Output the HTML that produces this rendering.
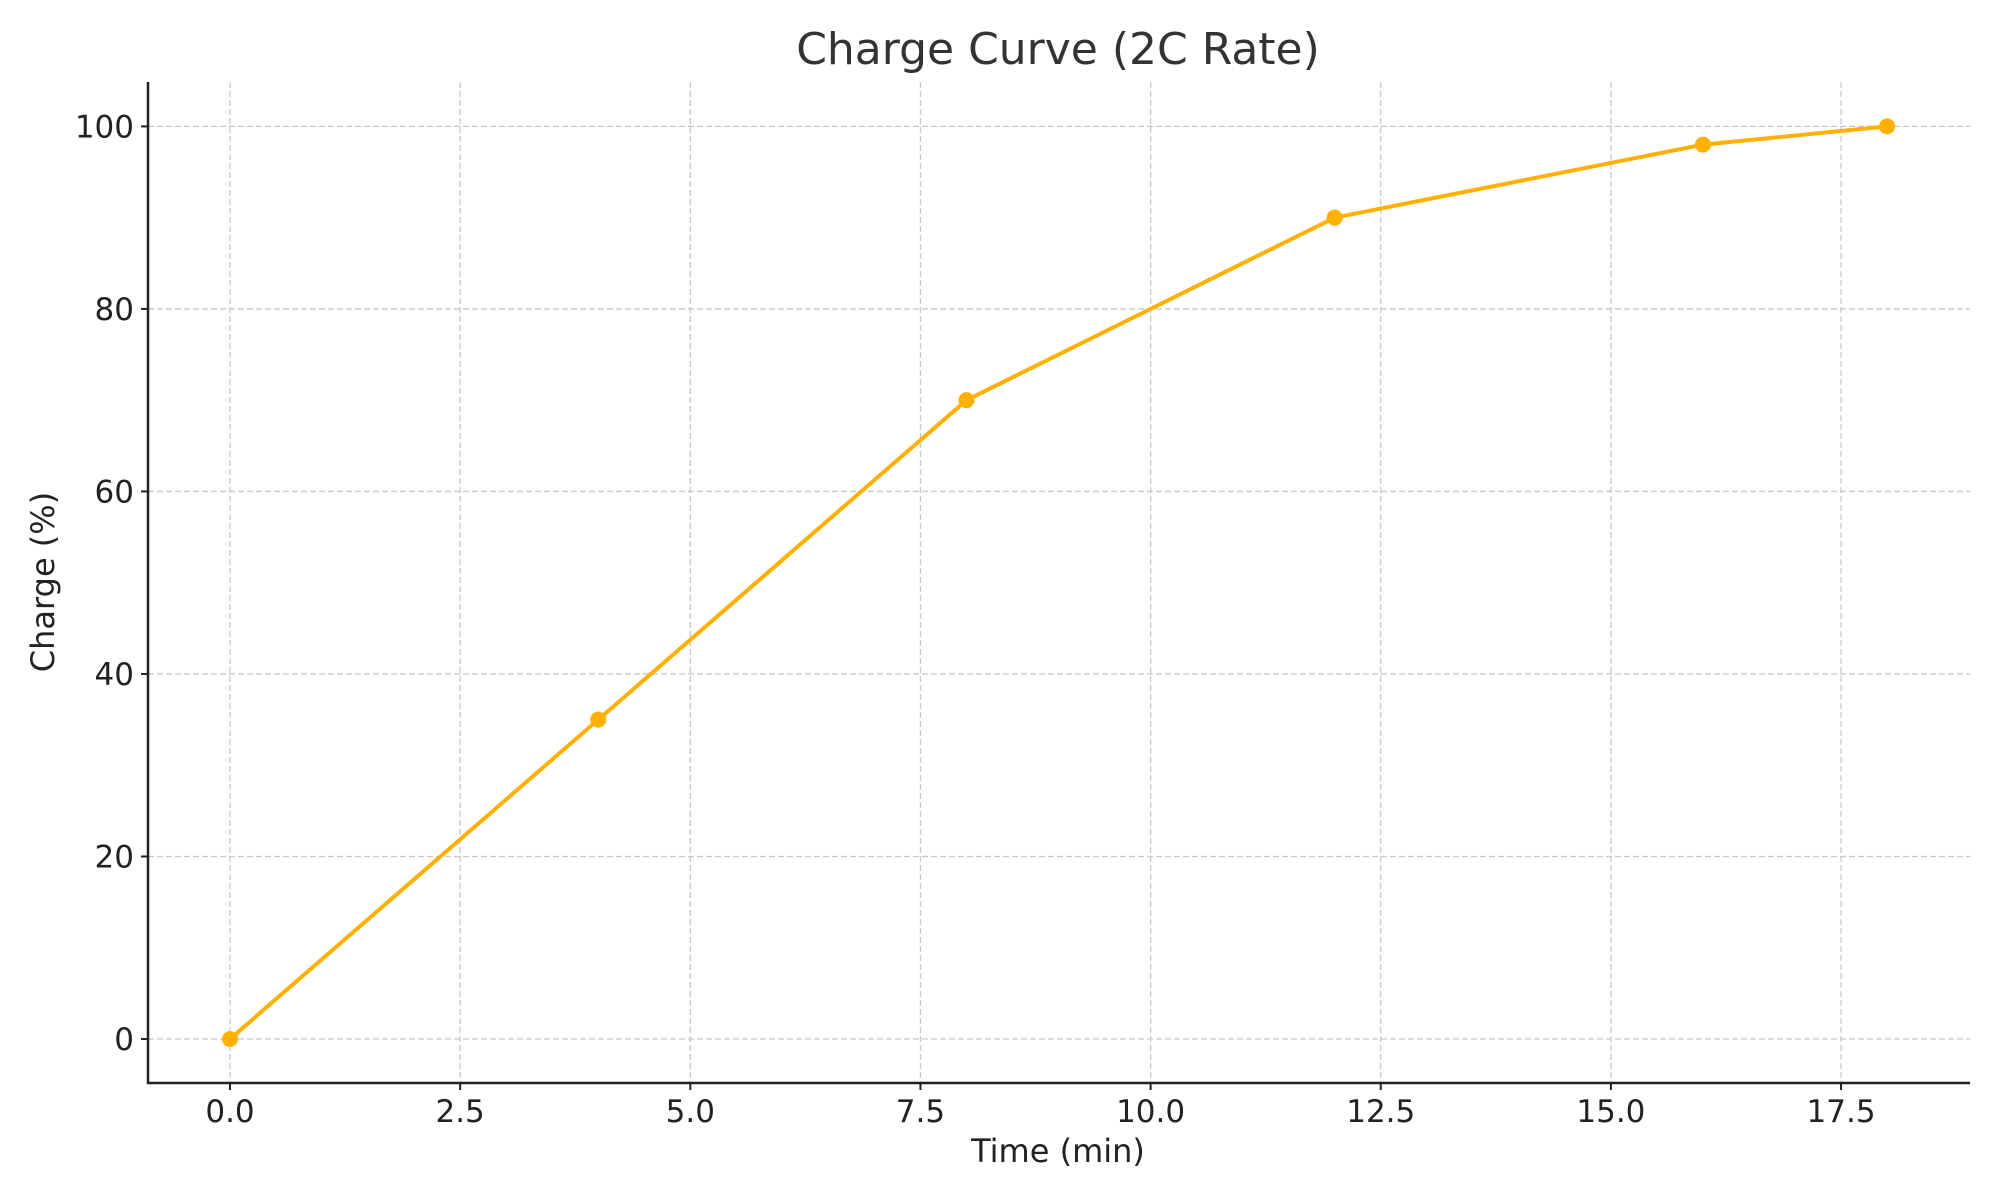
<!DOCTYPE html>
<html><head><meta charset="utf-8"><style>
html,body{margin:0;padding:0;background:#fff;}
svg{display:block;font-family:"DejaVu Sans","Liberation Sans",sans-serif;}
</style></head><body>
<svg id="chart" width="2000" height="1200" viewBox="0 0 2000 1200">
<rect width="2000" height="1200" fill="#fff"/>
<text x="1058" y="64" text-anchor="middle" font-size="44" fill="#333">Charge Curve (2C Rate)</text>
<g id="grid"></g>
<g id="axes"></g>
<g id="series"></g>
<text x="1058" y="1162" text-anchor="middle" font-size="32" fill="#222">Time (min)</text>
<text transform="translate(54,582) rotate(-90)" text-anchor="middle" font-size="32" fill="#222">Charge (%)</text>
</svg>
<script>
const times = [0, 4, 8, 12, 16, 18];
const charges = [0, 35, 70, 90, 98, 100];
const xTicks = [0, 2.5, 5, 7.5, 10, 12.5, 15, 17.5];
const xTickLabels = ["0.0","2.5","5.0","7.5","10.0","12.5","15.0","17.5"];
const yTicks = [0, 20, 40, 60, 80, 100];
const yTickLabels = ["0","20","40","60","80","100"];

const L=148,R=1970,T=82,B=1083;
function xs(v){return 230+v*92.06;}
function ys(v){return 1039-v*9.126;}
const NS="http://www.w3.org/2000/svg";
function mk(tag,attrs,parent){const e=document.createElementNS(NS,tag);for(const k in attrs)e.setAttribute(k,attrs[k]);parent.appendChild(e);return e;}
const grid=document.getElementById('grid'),axes=document.getElementById('axes'),series=document.getElementById('series');

xTicks.forEach((t,i)=>{
  const x=xs(t);
  const g=mk('line',{x1:x,x2:x,y1:T,y2:B,stroke:'#c8c8c8','stroke-width':1.3,'stroke-dasharray':'6,3'},grid);
  
  
  const tk=mk('line',{x1:x,x2:x,y1:B,y2:B+7,stroke:'#222','stroke-width':2},axes);
  
  
  const lb=mk('text',{x:x,y:B+39,'text-anchor':'middle','font-size':31,fill:'#222'},axes);
  lb.textContent=xTickLabels[i];
  
  
});
yTicks.forEach((t,i)=>{
  const y=ys(t);
  const g=mk('line',{x1:L,x2:R,y1:y,y2:y,stroke:'#c8c8c8','stroke-width':1.3,'stroke-dasharray':'6,3'},grid);
  
  
  const tk=mk('line',{x1:L-7,x2:L,y1:y,y2:y,stroke:'#222','stroke-width':2},axes);
  
  
  const lb=mk('text',{x:L-14,y:y+11,'text-anchor':'end','font-size':31,fill:'#222'},axes);
  lb.textContent=yTickLabels[i];
  
  
});
const ax=mk('path',{d:`M${L},${T} L${L},${B} L${R},${B}`,fill:'none',stroke:'#222','stroke-width':2.5},axes);



const pts=times.map((t,i)=>xs(t)+','+ys(charges[i])).join(' ');
const pl=mk('polyline',{points:pts,fill:'none',stroke:'#FFB000','stroke-width':4,'stroke-linejoin':'round'},series);


times.forEach((t,i)=>{
  const c=mk('circle',{cx:xs(t),cy:ys(charges[i]),r:8,fill:'#FFB000'},series);
  
  
});
</script>
</body></html>
